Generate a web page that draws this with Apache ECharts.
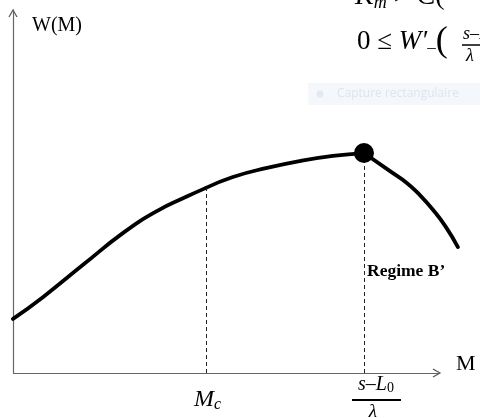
<!DOCTYPE html>
<html>
<head>
<meta charset="utf-8">
<script src="https://cdn.jsdelivr.net/npm/echarts@6/dist/echarts.min.js"></script>
<style>html,body{margin:0;padding:0;background:#fff}#c{width:480px;height:418px}</style>
</head>
<body>
<div id="c"></div>
<script>
// Curve W(M) (x: 0..100 = length of the M axis, y: 0..100 = height of the W axis)
const riseLow = [[0,14.9],[7.0,20.9],[16.4,29.8],[25.8,38.6],[33.7,44.6],[40.7,48.6],[45.2,51.0]];
const riseHigh = [[45.2,51.0],[51.5,54.0],[59.5,56.5],[67.2,58.4],[74.9,59.8],[82.2,60.6]];
const fall = [[82.2,60.6],[88.3,55.6],[92.3,52.3],[95.3,49.0],[98.4,44.9],[101.4,40.2],[104.2,34.7]];
const Mc = 45.2;
const Mstar = 82.2;
const peak = [[82.2,60.6]];
const axisEnd = 100;

const chart = echarts.init(document.getElementById('c'), null, {renderer:'canvas'});
const serif = '"Liberation Serif","DejaVu Serif",serif';
const lineStyle = {color:'#000', width:3.8, cap:'round', join:'round'};
const option = {
  animation:false,
  grid:{left:13, top:10, right:14.4, bottom:45},
  xAxis:{type:'value', min:0, max:106, splitLine:{show:false}, axisTick:{show:false}, axisLabel:{show:false},
    axisLine:{show:false}},
  yAxis:{type:'value', min:0, max:100, splitLine:{show:false}, axisTick:{show:false}, axisLabel:{show:false},
    axisLine:{onZero:false, lineStyle:{color:'#666', width:1.2}}},
  series:[
    {type:'line', data:riseLow, smooth:0.5, symbol:'none', lineStyle:lineStyle,
      markLine:{silent:true, symbol:'none', label:{show:false},
        lineStyle:{color:'#222', width:1, type:[4,3]},
        data:[[{coord:[Mc,0]},{coord:[Mc,riseLow[riseLow.length-1][1]]}],
              [{coord:[Mstar,0]},{coord:[Mstar,peak[0][1]]}]]}},
    {type:'line', data:riseHigh, smooth:0.5, symbol:'none', lineStyle:lineStyle,
      markLine:{silent:true, symbol:'none', label:{show:false},
        lineStyle:{color:'#666', width:1.2, type:'solid'},
        data:[[{coord:[0,0]},{coord:[axisEnd,0]}]]}},
    {type:'line', data:fall, smooth:0.5, symbol:'none', lineStyle:lineStyle},
    {type:'scatter', data:peak, symbolSize:20, itemStyle:{color:'#000', opacity:1}, z:5}
  ]
};
chart.setOption(option);

const xe = chart.convertToPixel({gridIndex:0},[axisEnd,0]);
const ye = chart.convertToPixel({gridIndex:0},[0,100]);
const pMc = chart.convertToPixel({gridIndex:0},[Mc,0]);
const pMs = chart.convertToPixel({gridIndex:0},[Mstar,0]);
const ac = '#555';
const fx = pMs[0] + 12;
chart.setOption({graphic:[
  // arrowheads
  {type:'polyline', shape:{points:[[xe[0]-7,xe[1]-4],[xe[0],xe[1]],[xe[0]-7,xe[1]+4]]}, style:{stroke:ac, lineWidth:1.2, fill:null}},
  {type:'polyline', shape:{points:[[ye[0]-4,ye[1]+7],[ye[0],ye[1]],[ye[0]+4,ye[1]+7]]}, style:{stroke:ac, lineWidth:1.2, fill:null}},
  // axis titles
  {type:'text', left:32, top:16, style:{text:'W(M)', font:'20px '+serif, fill:'#000'}},
  {type:'text', left:456, top:353, style:{text:'M', font:'22px '+serif, fill:'#000'}},
  // Mc label
  {type:'text', x:pMc[0]-12, y:pMc[1]+27, style:{text:'{m|M}{s|c}', verticalAlign:'middle', fill:'#000',
    rich:{m:{font:'italic 24px '+serif}, s:{font:'italic 16px '+serif, padding:[10,0,0,0]}}}},
  // fraction label
  {type:'text', x:fx, y:pMs[1]+12, style:{text:'{s|s–}{l|L}{z|0}', align:'center', verticalAlign:'middle', fill:'#000',
    rich:{s:{font:'italic 20px '+serif}, l:{font:'italic 20px '+serif}, z:{font:'14px '+serif, padding:[7,0,0,0]}}}},
  {type:'line', shape:{x1:fx-24, y1:pMs[1]+27, x2:fx+25, y2:pMs[1]+27}, style:{stroke:'#000', lineWidth:1.8}},
  {type:'text', x:fx-3, y:pMs[1]+39, style:{text:'λ', align:'center', verticalAlign:'middle', font:'italic 19px '+serif, fill:'#000'}},
  // regime label
  {type:'text', left:367, top:262, style:{text:'Regime B’', font:'bold 17.5px '+serif, fill:'#000'}},
  // top right formula fragments
  {type:'text', x:355, y:-3, style:{text:'{i|K}{s|m} > C(', verticalAlign:'middle', font:'28px '+serif, fill:'#000',
    rich:{i:{font:'italic 28px '+serif}, s:{font:'italic 18px '+serif, padding:[13,0,0,0]}}}},
  {type:'text', x:357, y:42, style:{text:'0 ≤ {i|W′}{s|–}{p|(}', verticalAlign:'middle', font:'27px '+serif, fill:'#000',
    rich:{i:{font:'italic 27px '+serif}, s:{font:'17px '+serif, padding:[12,0,0,0]}, p:{font:'36px '+serif}}}},
  {type:'text', x:463, y:34, style:{text:'{i|s–L}', verticalAlign:'middle', fill:'#000', rich:{i:{font:'italic 18px '+serif}}}},
  {type:'line', shape:{x1:462, y1:45, x2:480, y2:45}, style:{stroke:'#000', lineWidth:1.5}},
  {type:'text', x:466, y:56, style:{text:'λ', verticalAlign:'middle', font:'italic 18px '+serif, fill:'#000'}},
  // faint overlay
  {type:'rect', shape:{x:308, y:83, width:172, height:22}, style:{fill:'#f4f8fd'}},
  {type:'circle', shape:{cx:320, cy:94, r:3.5}, style:{fill:'#e4e9ef'}},
  {type:'text', x:337, y:94, style:{text:'Capture rectangulaire', verticalAlign:'middle', font:'12px "Open Sans",sans-serif', fill:'#dde4ec'}}
]});
</script>
</body>
</html>
